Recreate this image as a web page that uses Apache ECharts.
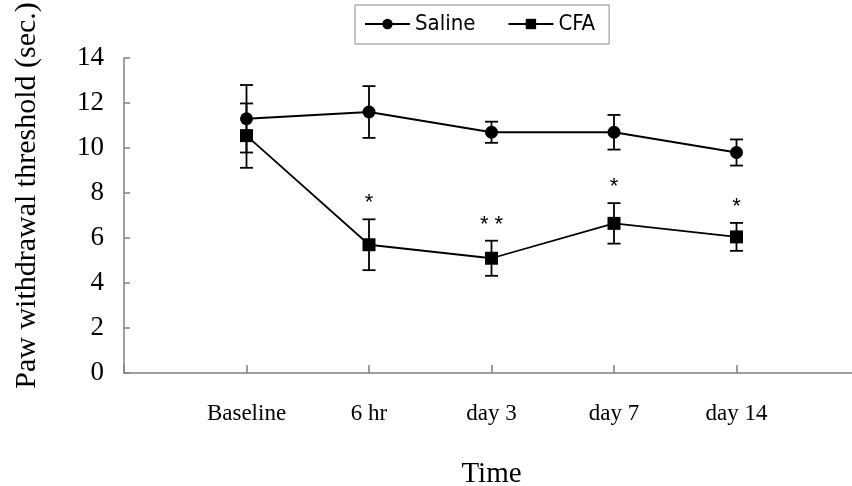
<!DOCTYPE html>
<html>
<head>
<meta charset="utf-8">
<script src="https://cdn.jsdelivr.net/npm/echarts@6/dist/echarts.min.js"></script>
<style>html,body{margin:0;padding:0;background:#fff}#c{width:852px;height:486px}</style>
</head>
<body>
<div id="c"></div>
<script>
const categories = ['Baseline', '6 hr', 'day 3', 'day 7', 'day 14'];
const salineMean = [11.3, 11.6, 10.7, 10.7, 9.8];
const salineErr  = [1.5, 1.15, 0.47, 0.77, 0.58];
const cfaMean    = [10.55, 5.7, 5.1, 6.65, 6.05];
const cfaErr     = [1.43, 1.13, 0.78, 0.9, 0.62];
const sigMarks   = ['', '*', '* *', '*', '*'];
const yTicks = { min: 0, max: 14, interval: 2 };

const xCats = [''].concat(categories, ['']);
const serif = '"Liberation Serif", "Times New Roman", serif';
const narrow = '"Liberation Sans Narrow", "DejaVu Sans Condensed", "Liberation Sans", sans-serif';

const meanData = (arr) => arr.map((v, i) => [i + 1, v]);
const errData = (m, e) => m.map((v, i) => [i + 1, v, e[i]]);

function errRender(params, api) {
  const x = api.value(0), m = api.value(1), e = api.value(2);
  const hi = api.coord([x, m + e]);
  const lo = api.coord([x, m - e]);
  const w = 6.5;
  const st = { stroke: '#000', lineWidth: 1.8 };
  return { type: 'group', children: [
    { type: 'line', shape: { x1: hi[0], y1: hi[1], x2: lo[0], y2: lo[1] }, style: st },
    { type: 'line', shape: { x1: hi[0] - w, y1: hi[1], x2: hi[0] + w, y2: hi[1] }, style: st },
    { type: 'line', shape: { x1: lo[0] - w, y1: lo[1], x2: lo[0] + w, y2: lo[1] }, style: st }
  ]};
}

const sigData = cfaMean.map((v, i) => [i + 1, v + cfaErr[i]]);
function sigRender(params, api) {
  const p = api.coord([api.value(0), api.value(1)]);
  return { type: 'text', x: p[0], y: p[1] - 16, style: {
    text: sigMarks[params.dataIndex], fill: '#000', font: '22px "Liberation Sans", sans-serif',
    align: 'center', verticalAlign: 'middle' } };
}

const chart = echarts.init(document.getElementById('c'), null, { renderer: 'canvas' });
chart.setOption({
  animation: false,
  backgroundColor: '#fff',
  grid: { left: 124, right: -7, top: 58, bottom: 113, outerBoundsMode: 'none', containLabel: false },
  legend: {
    data: ['Saline', 'CFA'],
    left: 355, top: 5,
    borderColor: '#888', borderWidth: 1,
    padding: [8, 14, 9, 9],
    itemWidth: 45, itemHeight: 13, itemGap: 32,
    textStyle: { fontFamily: narrow, fontSize: 22, color: '#000' }
  },
  xAxis: {
    type: 'category', data: xCats, boundaryGap: false,
    name: 'Time', nameLocation: 'middle', nameGap: 87,
    nameTextStyle: { fontFamily: serif, fontSize: 29, color: '#000' },
    axisLine: { lineStyle: { color: '#808080', width: 1.5 } },
    axisTick: { inside: true, length: 8, interval: 0, lineStyle: { color: '#808080', width: 1.5 } },
    axisLabel: { interval: 0, margin: 29, fontFamily: serif, fontSize: 23, color: '#000' },
    splitLine: { show: false }
  },
  yAxis: {
    type: 'value', min: yTicks.min, max: yTicks.max, interval: yTicks.interval,
    name: 'Paw withdrawal threshold (sec.)', nameLocation: 'middle', nameGap: 82,
    nameTextStyle: { fontFamily: serif, fontSize: 30, color: '#000', padding: [0, 0, 0, 40] },
    axisLine: { show: true, lineStyle: { color: '#808080', width: 1.5 } },
    axisTick: { show: true, inside: true, length: 6, lineStyle: { color: '#808080', width: 1.5 } },
    axisLabel: { margin: 20, fontFamily: serif, fontSize: 27, color: '#000' },
    splitLine: { show: false }
  },
  series: [
    { name: 'SalineErr', type: 'custom', renderItem: errRender, data: errData(salineMean, salineErr), z: 2, silent: true },
    { name: 'CFAErr', type: 'custom', renderItem: errRender, data: errData(cfaMean, cfaErr), z: 2, silent: true },
    { name: 'Saline', type: 'line', data: meanData(salineMean), symbol: 'circle', symbolSize: 13,
      itemStyle: { color: '#000' }, lineStyle: { color: '#000', width: 1.8 }, z: 3 },
    { name: 'CFA', type: 'line', data: meanData(cfaMean), symbol: 'rect', symbolSize: 13,
      itemStyle: { color: '#000' }, lineStyle: { color: '#000', width: 1.8 }, z: 3 },
    { name: 'sig', type: 'custom', renderItem: sigRender, data: sigData, z: 4, silent: true }
  ]
});
</script>
</body>
</html>
